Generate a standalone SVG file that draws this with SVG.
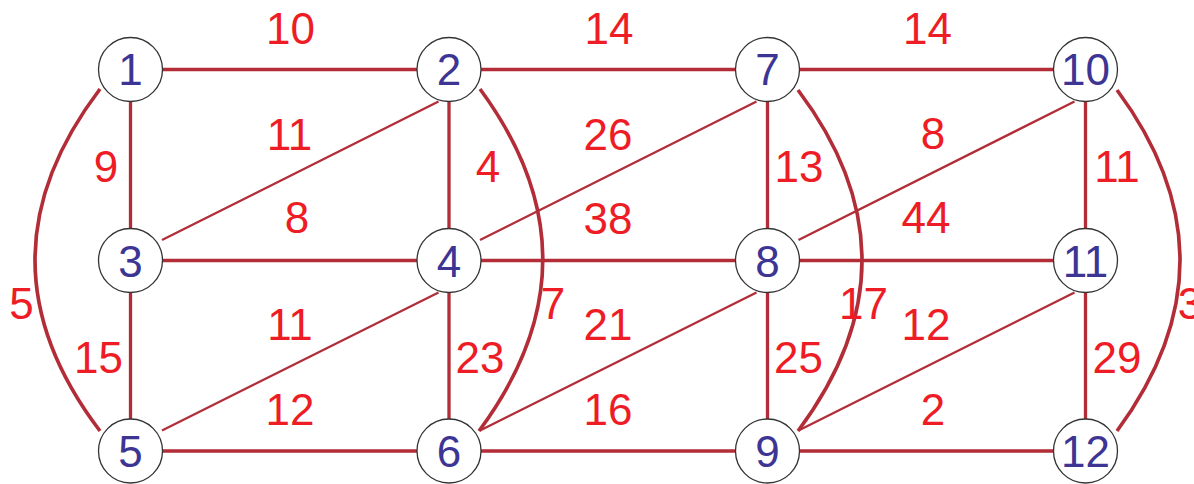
<svg xmlns="http://www.w3.org/2000/svg" width="1194" height="484" viewBox="0 0 1194 484">
<style>
.e{stroke:#b22d37;fill:none;stroke-linecap:butt}
.h{stroke-width:3.3}
.d{stroke-width:2.3}
.c{stroke-width:3.6}
.n circle{fill:#fff;stroke:#333;stroke-width:1.3}
.n text{font-family:"Liberation Sans",Arial,sans-serif;font-size:44px;fill:#3d3594;text-anchor:middle}
.l text{font-family:"Liberation Sans",Arial,sans-serif;font-size:44px;fill:#ee1c25;text-anchor:middle}
</style>
<rect width="1194" height="484" fill="#fff"/>
<g id="connectors">
<path class="e h" d="M162.5 69.5H417M481 69.5H735.5M799.5 69.5H1053.5"/>
<path class="e h" d="M162.5 260.5H417M481 260.5H735.5M799.5 260.5H1053.5"/>
<path class="e h" d="M162.5 451H417M481 451H735.5M799.5 451H1053.5"/>
<path class="e h" d="M130.5 101.5V228.5M130.5 292.5V419M449 101.5V228.5M449 292.5V419M767.5 101.5V228.5M767.5 292.5V419M1085.5 101.5V228.5M1085.5 292.5V419"/>
<path class="e d" d="M162 240L438.5 101.5M480 240L756.5 101.5M798.5 240L1074.5 101.5"/>
<path class="e d" d="M162 430.5L438.5 292.5M480 430.5L756.5 292.5M798.5 430.5L1074.5 292.5"/>
<path class="e c" d="M100 89Q-30 260 100 431"/>
<path class="e c" d="M480 89Q606 260 479 431"/>
<path class="e c" d="M798 90Q926 260 798 431"/>
<path class="e c" d="M1117 90Q1243 260 1117 431"/>
</g>
<g class="l" id="labels">
<text x="290.5" y="44">10</text>
<text x="609" y="44">14</text>
<text x="927.5" y="44">14</text>
<text x="289.5" y="150">11</text>
<text x="608" y="150">26</text>
<text x="933" y="149">8</text>
<text x="106" y="182">9</text>
<text x="488" y="182">4</text>
<text x="799" y="182">13</text>
<text x="1117" y="182">11</text>
<text x="297" y="233">8</text>
<text x="608" y="234">38</text>
<text x="926" y="233">44</text>
<text x="21.5" y="319">5</text>
<text x="553" y="319">7</text>
<text x="863.5" y="319">17</text>
<text x="1190" y="319">3</text>
<text x="290" y="340">11</text>
<text x="608" y="340">21</text>
<text x="926" y="340">12</text>
<text x="98.5" y="373">15</text>
<text x="480" y="373">23</text>
<text x="798.5" y="373">25</text>
<text x="1117" y="373">29</text>
<text x="290" y="425">12</text>
<text x="608" y="425">16</text>
<text x="933" y="425">2</text>
</g>
<g class="n" id="node1"><circle cx="130.5" cy="69.5" r="32"/><text x="130.5" y="85">1</text></g>
<g class="n" id="node2"><circle cx="449" cy="69.5" r="32"/><text x="449" y="85">2</text></g>
<g class="n" id="node7"><circle cx="767.5" cy="69.5" r="32"/><text x="767.5" y="85">7</text></g>
<g class="n" id="node10"><circle cx="1085.5" cy="69.5" r="32"/><text x="1085.5" y="85">10</text></g>
<g class="n" id="node3"><circle cx="130.5" cy="260.5" r="32"/><text x="130.5" y="276.5">3</text></g>
<g class="n" id="node4"><circle cx="449" cy="260.5" r="32"/><text x="449" y="276.5">4</text></g>
<g class="n" id="node8"><circle cx="767.5" cy="260.5" r="32"/><text x="767.5" y="276.5">8</text></g>
<g class="n" id="node11"><circle cx="1085.5" cy="260.5" r="32"/><text x="1085.5" y="276.5">11</text></g>
<g class="n" id="node5"><circle cx="130.5" cy="451" r="32"/><text x="130.5" y="467">5</text></g>
<g class="n" id="node6"><circle cx="449" cy="451" r="32"/><text x="449" y="467">6</text></g>
<g class="n" id="node9"><circle cx="767.5" cy="451" r="32"/><text x="767.5" y="467">9</text></g>
<g class="n" id="node12"><circle cx="1085.5" cy="451" r="32"/><text x="1085.5" y="467">12</text></g>
</svg>
